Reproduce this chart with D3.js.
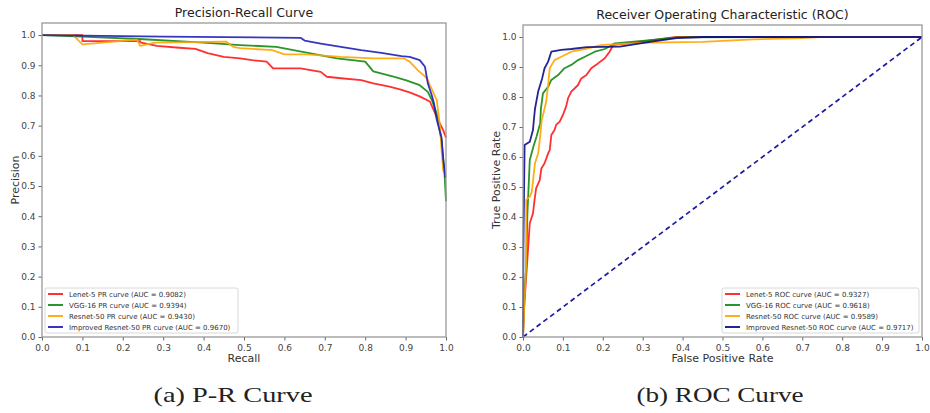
<!DOCTYPE html>
<html>
<head>
<meta charset="utf-8">
<script src="https://cdn.jsdelivr.net/npm/d3@7"></script>
<style>
  body { margin: 0; background: #fff; }
  svg text { font-family: "DejaVu Sans", sans-serif; }
</style>
</head>
<body>
<svg id="chart" width="930" height="413"></svg>
<script>
// P-R curves [recall, precision]
var lenetPR = [[0,1.0],[0.10,1.0],[0.10,0.98],[0.243,0.98],[0.243,0.976],[0.284,0.964],[0.34,0.958],[0.38,0.954],
  [0.41,0.94],[0.45,0.928],[0.49,0.923],[0.52,0.917],[0.556,0.912],[0.572,0.89],[0.64,0.89],[0.69,0.878],[0.705,0.862],
  [0.74,0.857],[0.79,0.851],[0.82,0.84],[0.86,0.829],[0.886,0.82],[0.91,0.81],[0.936,0.796],[0.96,0.78],[0.98,0.72],
  [0.993,0.685],[1.0,0.66]];
var vggPR = [[0,1.0],[0.1,0.995],[0.24,0.987],[0.4,0.975],[0.49,0.967],[0.58,0.961],[0.655,0.942],[0.73,0.923],
  [0.80,0.912],[0.82,0.88],[0.87,0.862],[0.90,0.851],[0.935,0.834],[0.955,0.812],[0.965,0.785],[0.977,0.74],
  [0.989,0.65],[0.996,0.55],[1.0,0.45]];
var resnetPR = [[0,1.0],[0.077,1.0],[0.10,0.969],[0.235,0.985],[0.243,0.964],[0.28,0.975],[0.457,0.978],[0.473,0.961],
  [0.49,0.957],[0.57,0.950],[0.60,0.936],[0.655,0.936],[0.74,0.928],[0.82,0.923],[0.895,0.923],[0.91,0.912],[0.93,0.884],
  [0.953,0.857],[0.96,0.834],[0.977,0.785],[0.985,0.70],[0.989,0.62],[0.993,0.553],[1.0,0.53]];
var improvedPR = [[0,1.0],[0.3,0.995],[0.64,0.991],[0.65,0.982],[0.69,0.972],[0.74,0.961],[0.79,0.950],[0.84,0.941],
  [0.89,0.930],[0.91,0.928],[0.935,0.917],[0.948,0.895],[0.955,0.84],[0.965,0.80],[0.97,0.775],[0.977,0.72],
  [0.989,0.66],[0.993,0.59],[0.998,0.53],[1.0,0.53]];

// ROC curves [fpr, tpr]
var lenetROC = [[0,0],[0.003,0.1],[0.008,0.2],[0.013,0.30],[0.017,0.379],[0.025,0.412],[0.029,0.457],[0.033,0.496],
  [0.042,0.523],[0.046,0.562],[0.054,0.579],[0.063,0.612],[0.067,0.623],[0.071,0.673],[0.079,0.69],[0.083,0.707],
  [0.092,0.718],[0.10,0.74],[0.108,0.768],[0.113,0.796],[0.121,0.818],[0.138,0.84],[0.146,0.862],[0.159,0.873],
  [0.171,0.896],[0.188,0.912],[0.205,0.929],[0.217,0.951],[0.226,0.973],[0.3,0.985],[0.385,1.0],[1,1]];
var vggROC = [[0,0],[0.002,0.1],[0.008,0.234],[0.011,0.41],[0.017,0.59],[0.026,0.634],[0.034,0.668],[0.043,0.712],
  [0.045,0.762],[0.05,0.812],[0.063,0.834],[0.071,0.857],[0.088,0.873],[0.104,0.896],[0.121,0.907],[0.138,0.923],
  [0.155,0.934],[0.18,0.951],[0.205,0.96],[0.23,0.979],[0.326,0.99],[0.385,0.999],[0.6,1.0],[1,1]];
var resnetROC = [[0,0],[0.003,0.1],[0.008,0.245],[0.008,0.457],[0.017,0.468],[0.022,0.484],[0.03,0.579],[0.038,0.612],
  [0.043,0.668],[0.047,0.723],[0.052,0.75],[0.058,0.784],[0.063,0.84],[0.067,0.896],[0.079,0.923],[0.096,0.934],
  [0.121,0.951],[0.155,0.96],[0.196,0.973],[0.243,0.977],[0.318,0.981],[0.45,0.984],[0.577,0.992],[0.70,0.996],
  [0.745,1.0],[1,1]];
var improvedROC = [[0,0],[0.001,0.3],[0.004,0.64],[0.017,0.651],[0.025,0.69],[0.027,0.72],[0.03,0.76],[0.038,0.818],
  [0.048,0.862],[0.054,0.896],[0.063,0.918],[0.071,0.951],[0.096,0.957],[0.121,0.96],[0.16,0.966],[0.243,0.968],
  [0.318,0.984],[0.385,0.996],[0.45,1.0],[1,1]];
var chanceROC = [[0,0],[1,1]];

var prLabels = ["Lenet-5 PR curve (AUC = 0.9082)", "VGG-16 PR curve (AUC = 0.9394)",
  "Resnet-50 PR curve (AUC = 0.9430)", "Improved Resnet-50 PR curve (AUC = 0.9670)"];
var rocLabels = ["Lenet-5 ROC curve (AUC = 0.9327)", "VGG-16 ROC curve (AUC = 0.9618)",
  "Resnet-50 ROC curve (AUC = 0.9589)", "Improved Resnet-50 ROC curve (AUC = 0.9717)"];
var ticks = [0, 0.1, 0.2, 0.3, 0.4, 0.5, 0.6, 0.7, 0.8, 0.9, 1.0];

var svg = d3.select("#chart");

function drawPanel(opt) {
  var x = d3.scaleLinear().domain([0, 1]).range([opt.left, opt.right]);
  var y = d3.scaleLinear().domain([0, 1.04]).range([337, opt.top]);
  var g = svg.append("g");

  var line = d3.line()
    .x(function(d) { return x(d[0]); })
    .y(function(d) { return y(d[1]); });

  // axes
  var xAxis = g.append("g").attr("transform", "translate(0,337)")
    .call(d3.axisBottom(x).tickValues(ticks).tickFormat(d3.format(".1f")).tickSize(3.5).tickSizeOuter(0));
  var yAxis = g.append("g").attr("transform", "translate(" + opt.left + ",0)")
    .call(d3.axisLeft(y).tickValues(ticks).tickFormat(d3.format(".1f")).tickSize(3.5).tickSizeOuter(0));
  [xAxis, yAxis].forEach(function(a) {
    a.select(".domain").remove();
    a.selectAll("line").attr("stroke", "#666");
    a.selectAll("text").attr("fill", "#444").style("font-size", "9px");
  });
  xAxis.selectAll("text").attr("dy", "0.85em");

  // curves
  if (opt.diag) {
    g.append("path").datum(opt.diag).attr("d", line)
      .attr("fill", "none").attr("stroke", "#1c1ca0").attr("stroke-width", 1.7)
      .attr("stroke-dasharray", "5,3.5");
  }
  opt.series.forEach(function(s, i) {
    g.append("path").datum(s).attr("d", line)
      .attr("fill", "none").attr("stroke", opt.colors[i]).attr("stroke-width", 1.8)
      .attr("stroke-linejoin", "round").attr("stroke-opacity", 0.9);
  });

  // frame
  g.append("rect").attr("x", opt.left).attr("y", opt.top)
    .attr("width", opt.right - opt.left).attr("height", 337 - opt.top)
    .attr("fill", "none").attr("stroke", "#999").attr("stroke-width", 1.3);

  // titles
  g.append("text").attr("x", (opt.left + opt.right) / 2).attr("y", opt.top - 6)
    .attr("text-anchor", "middle").style("font-size", "12.5px").attr("fill", "#222").text(opt.title);
  g.append("text").attr("x", (opt.left + opt.right) / 2).attr("y", 362)
    .attr("text-anchor", "middle").style("font-size", "11px").attr("fill", "#333").text(opt.xLabel);
  g.append("text").attr("transform", "translate(" + opt.yLabelX + ",180) rotate(-90)")
    .attr("text-anchor", "middle").style("font-size", "11px").attr("fill", "#333").text(opt.yLabel);

  // legend
  var lg = g.append("g").attr("transform", "translate(" + opt.legendX + ",288)");
  lg.append("rect").attr("width", opt.legendW).attr("height", 45).attr("rx", 2)
    .attr("fill", "#fff").attr("fill-opacity", 0.85).attr("stroke", "#d8d8d8");
  opt.labels.forEach(function(t, i) {
    var row = lg.append("g").attr("transform", "translate(0," + (6 + i * 11) + ")");
    row.append("line").attr("x1", 3).attr("x2", 18).attr("y1", 0).attr("y2", 0)
      .attr("stroke", opt.colors[i]).attr("stroke-width", 1.8);
    row.append("text").attr("x", 24).attr("y", 2.5).style("font-size", "7px").attr("fill", "#333").text(t);
  });
}

drawPanel({
  left: 42, right: 446, top: 23,
  series: [lenetPR, vggPR, resnetPR, improvedPR],
  colors: ["#ff1a1a", "#138a13", "#ffa500", "#2020b8"],
  labels: prLabels,
  title: "Precision-Recall Curve", xLabel: "Recall", yLabel: "Precision", yLabelX: 19,
  legendX: 45, legendW: 193
});
drawPanel({
  left: 523, right: 922, top: 25,
  series: [lenetROC, vggROC, resnetROC, improvedROC],
  colors: ["#ff1a1a", "#138a13", "#ffa500", "#0c0c88"],
  labels: rocLabels, diag: chanceROC,
  title: "Receiver Operating Characteristic (ROC)", xLabel: "False Positive Rate", yLabel: "True Positive Rate", yLabelX: 500,
  legendX: 722, legendW: 197
});

// captions
var captions = [{t: "(a) P-R Curve", x: 233}, {t: "(b) ROC Curve", x: 720}];
svg.selectAll(".cap").data(captions).enter().append("text")
  .attr("x", function(d) { return d.x; }).attr("y", 402)
  .attr("text-anchor", "middle")
  .style("font-family", "'Liberation Serif', serif").style("font-size", "21px")
  .attr("textLength", function(d, i) { return i ? 167 : 159; }).attr("lengthAdjust", "spacingAndGlyphs")
  .attr("fill", "#222").text(function(d) { return d.t; });
</script>
</body>
</html>
